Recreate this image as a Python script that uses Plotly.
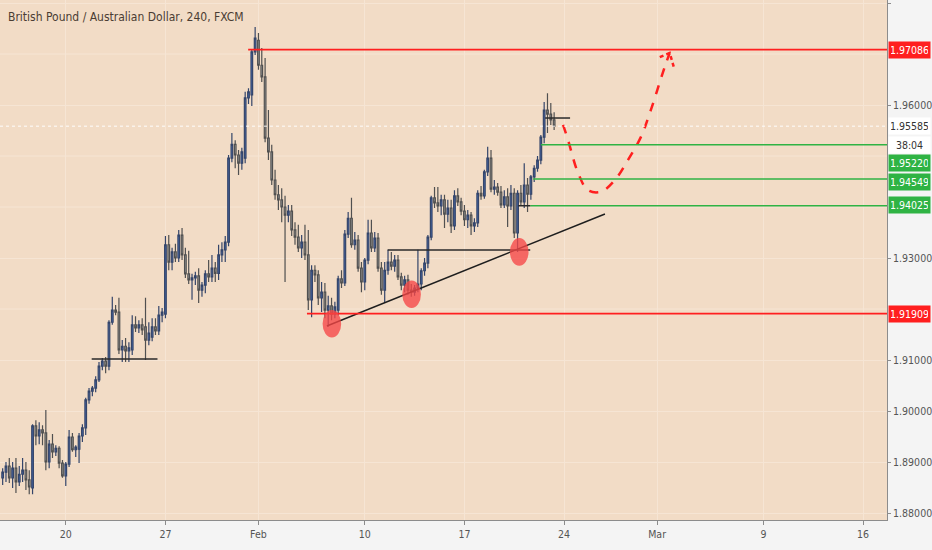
import plotly.graph_objects as go

# GBP/AUD 4h candles, bar 0 = Mon 20 Jan
bars = list(range(-19, 148))

opens = [1.8869, 1.8880, 1.8892, 1.8869, 1.8888, 1.8861, 1.8876, 1.8884, 1.8865, 1.8849,
         1.8971, 1.8951, 1.8963, 1.8957, 1.8900, 1.8935, 1.8920, 1.8927, 1.8898,
         1.8873, 1.8896, 1.8949, 1.8924, 1.8925, 1.8951, 1.8967, 1.9022, 1.9039, 1.9045,
         1.9061, 1.9088, 1.9098, 1.9088, 1.9174, 1.9198, 1.9194, 1.9120, 1.9127, 1.9118,
         1.9120, 1.9169, 1.9163, 1.9169, 1.9165, 1.9139, 1.9145, 1.9165, 1.9157, 1.9188,
         1.9190, 1.9326, 1.9292, 1.9312, 1.9300, 1.9345, 1.9306, 1.9269, 1.9257, 1.9261,
         1.9265, 1.9237, 1.9247, 1.9269, 1.9263, 1.9280, 1.9270, 1.9306, 1.9316, 1.9331,
         1.9496, 1.9523, 1.9502, 1.9486, 1.9496, 1.9614, 1.9620, 1.9704, 1.9727, 1.9678,
         1.9655, 1.9535, 1.9508, 1.9453, 1.9424, 1.9414, 1.9400, 1.9384, 1.9392, 1.9355,
         1.9341, 1.9320, 1.9331, 1.9306, 1.9218, 1.9276, 1.9267, 1.9222, 1.9233, 1.9198,
         1.9206, 1.9190, 1.9198, 1.9259, 1.9251, 1.9347, 1.9378, 1.9326, 1.9335, 1.9280,
         1.9253, 1.9296, 1.9349, 1.9320, 1.9339, 1.9280, 1.9237, 1.9276, 1.9292, 1.9284,
         1.9296, 1.9263, 1.9247, 1.9257, 1.9237, 1.9233, 1.9241, 1.9249, 1.9275, 1.9290,
         1.9341, 1.9418, 1.9408, 1.9402, 1.9414, 1.9386, 1.9398, 1.9363, 1.9422, 1.9410,
         1.9392, 1.9375, 1.9384, 1.9363, 1.9369, 1.9427, 1.9422, 1.9469, 1.9496, 1.9435,
         1.9439, 1.9429, 1.9404, 1.9420, 1.9402, 1.9427, 1.9349, 1.9427, 1.9410, 1.9443,
         1.9425, 1.9459, 1.9476, 1.9492, 1.9537, 1.9590, 1.9582, 1.9571]

highs = [1.8888, 1.8900, 1.8908, 1.8900, 1.8908, 1.8892, 1.8908, 1.8900, 1.8884, 1.8974,
         1.8982, 1.8978, 1.8972, 1.9002, 1.8943, 1.8955, 1.8933, 1.8931, 1.8904,
         1.8900, 1.8963, 1.8957, 1.8933, 1.8957, 1.8974, 1.9026, 1.9045, 1.9049, 1.9068,
         1.9096, 1.9104, 1.9106, 1.9178, 1.9224, 1.9208, 1.9222, 1.9139, 1.9143, 1.9135,
         1.9188, 1.9186, 1.9178, 1.9182, 1.9222, 1.9174, 1.9182, 1.9182, 1.9206, 1.9202,
         1.9343, 1.9345, 1.9320, 1.9328, 1.9355, 1.9359, 1.9320, 1.9314, 1.9269, 1.9273,
         1.9280, 1.9253, 1.9276, 1.9296, 1.9306, 1.9292, 1.9326, 1.9331, 1.9343, 1.9502,
         1.9545, 1.9531, 1.9512, 1.9516, 1.9626, 1.9633, 1.9708, 1.9753, 1.9741, 1.9712,
         1.9692, 1.9590, 1.9522, 1.9473, 1.9443, 1.9437, 1.9422, 1.9404, 1.9404, 1.9370,
         1.9365, 1.9345, 1.9365, 1.9355, 1.9286, 1.9286, 1.9276, 1.9253, 1.9251, 1.9226,
         1.9222, 1.9214, 1.9265, 1.9276, 1.9355, 1.9390, 1.9418, 1.9351, 1.9345, 1.9292,
         1.9300, 1.9375, 1.9375, 1.9351, 1.9349, 1.9292, 1.9292, 1.9316, 1.9312, 1.9306,
         1.9306, 1.9271, 1.9265, 1.9267, 1.9249, 1.9247, 1.9316, 1.9280, 1.9300, 1.9345,
         1.9422, 1.9439, 1.9439, 1.9424, 1.9424, 1.9414, 1.9414, 1.9433, 1.9437, 1.9418,
         1.9404, 1.9394, 1.9390, 1.9378, 1.9433, 1.9441, 1.9473, 1.9518, 1.9512, 1.9453,
         1.9447, 1.9441, 1.9433, 1.9437, 1.9443, 1.9437, 1.9433, 1.9443, 1.9486, 1.9457,
         1.9463, 1.9482, 1.9500, 1.9541, 1.9606, 1.9623, 1.9604, 1.9586]

lows = [1.8855, 1.8861, 1.8859, 1.8849, 1.8839, 1.8853, 1.8861, 1.8845, 1.8837, 1.8837,
        1.8933, 1.8935, 1.8933, 1.8884, 1.8888, 1.8908, 1.8912, 1.8888, 1.8869,
        1.8853, 1.8890, 1.8920, 1.8910, 1.8898, 1.8939, 1.8953, 1.9014, 1.9029, 1.9037,
        1.9057, 1.9080, 1.9074, 1.9080, 1.9169, 1.9188, 1.9112, 1.9096, 1.9096, 1.9096,
        1.9110, 1.9155, 1.9153, 1.9149, 1.9100, 1.9129, 1.9137, 1.9149, 1.9149, 1.9174,
        1.9182, 1.9276, 1.9276, 1.9292, 1.9292, 1.9296, 1.9261, 1.9249, 1.9218, 1.9247,
        1.9212, 1.9224, 1.9231, 1.9253, 1.9253, 1.9253, 1.9257, 1.9292, 1.9292, 1.9323,
        1.9488, 1.9476, 1.9463, 1.9473, 1.9486, 1.9602, 1.9598, 1.9698, 1.9669, 1.9645,
        1.9527, 1.9492, 1.9443, 1.9414, 1.9394, 1.9370, 1.9253, 1.9370, 1.9343, 1.9326,
        1.9312, 1.9300, 1.9296, 1.9198, 1.9184, 1.9253, 1.9208, 1.9194, 1.9182, 1.9165,
        1.9178, 1.9182, 1.9188, 1.9241, 1.9245, 1.9339, 1.9320, 1.9316, 1.9273, 1.9233,
        1.9237, 1.9288, 1.9312, 1.9312, 1.9273, 1.9228, 1.9212, 1.9267, 1.9276, 1.9273,
        1.9257, 1.9237, 1.9233, 1.9228, 1.9224, 1.9226, 1.9233, 1.9237, 1.9265, 1.9280,
        1.9335, 1.9398, 1.9390, 1.9384, 1.9359, 1.9370, 1.9349, 1.9355, 1.9402, 1.9384,
        1.9363, 1.9359, 1.9345, 1.9351, 1.9361, 1.9414, 1.9416, 1.9461, 1.9429, 1.9424,
        1.9422, 1.9398, 1.9398, 1.9361, 1.9394, 1.9339, 1.9312, 1.9402, 1.9398, 1.9390,
        1.9414, 1.9449, 1.9469, 1.9484, 1.9525, 1.9545, 1.9561, 1.9551]

closes = [1.8880, 1.8892, 1.8869, 1.8888, 1.8861, 1.8876, 1.8884, 1.8865, 1.8851, 1.8971,
          1.8951, 1.8963, 1.8957, 1.8900, 1.8935, 1.8920, 1.8927, 1.8898, 1.8873,
          1.8896, 1.8949, 1.8924, 1.8929, 1.8951, 1.8967, 1.9022, 1.9039, 1.9045, 1.9061,
          1.9088, 1.9098, 1.9088, 1.9174, 1.9198, 1.9194, 1.9120, 1.9127, 1.9118, 1.9124,
          1.9169, 1.9163, 1.9169, 1.9159, 1.9139, 1.9153, 1.9165, 1.9157, 1.9188, 1.9194,
          1.9326, 1.9292, 1.9312, 1.9300, 1.9345, 1.9306, 1.9269, 1.9257, 1.9261, 1.9265,
          1.9237, 1.9247, 1.9269, 1.9263, 1.9280, 1.9270, 1.9306, 1.9316, 1.9331, 1.9496,
          1.9523, 1.9502, 1.9486, 1.9508, 1.9614, 1.9626, 1.9704, 1.9731, 1.9678, 1.9655,
          1.9535, 1.9508, 1.9453, 1.9424, 1.9414, 1.9400, 1.9384, 1.9392, 1.9355, 1.9341,
          1.9320, 1.9331, 1.9306, 1.9218, 1.9276, 1.9267, 1.9222, 1.9233, 1.9198, 1.9206,
          1.9190, 1.9204, 1.9259, 1.9251, 1.9347, 1.9378, 1.9326, 1.9335, 1.9280, 1.9253,
          1.9296, 1.9349, 1.9320, 1.9339, 1.9280, 1.9237, 1.9276, 1.9292, 1.9284, 1.9296,
          1.9263, 1.9247, 1.9257, 1.9237, 1.9233, 1.9241, 1.9249, 1.9275, 1.9290, 1.9341,
          1.9418, 1.9408, 1.9402, 1.9414, 1.9386, 1.9398, 1.9363, 1.9422, 1.9410, 1.9392,
          1.9375, 1.9384, 1.9363, 1.9369, 1.9427, 1.9422, 1.9469, 1.9496, 1.9435, 1.9439,
          1.9429, 1.9404, 1.9420, 1.9402, 1.9427, 1.9349, 1.9427, 1.9410, 1.9443, 1.9425,
          1.9459, 1.9476, 1.9492, 1.9537, 1.9590, 1.9582, 1.9571, 1.95585]

tick_bars = [0, 30, 58, 90, 120, 150, 178, 210, 240]
tick_text = ["20", "27", "Feb", "10", "17", "24", "Mar", "9", "16"]

# price ticks that stay visible (the rest sit under the level tags)
price_ticks = [1.88, 1.89, 1.90, 1.91, 1.93, 1.96, 1.98]
hidden_grid = [1.92, 1.94, 1.95, 1.97]

last_price = 1.95585
countdown = "38:04"

# horizontal levels: (price, start bar)
red_levels = [(1.97086, 54.9), (1.91909, 72.6)]
green_levels = [(1.95220, 143.0, -18), (1.94549, 140.7, -3), (1.94025, 139.8, 1)]
black_segments = [(1.9102, 7.8, 27.6), (1.93157, 96.9, 139.8),
                  (1.95745, 144.3, 151.8), (1.94025, 136.2, 139.8)]
trend_bars = [78.6, 162.3]
trend_prices = [1.91667, 1.93863]
circle_bars = [80.1, 104.1, 136.5]
circle_prices = [1.9171, 1.9229, 1.9312]
path_bars = [149.7, 151.2, 154.2, 157.2, 161.1, 165.3, 169.2, 173.1, 176.1, 180.3, 181.8]
path_prices = [1.9561, 1.9531, 1.9467, 1.9433, 1.9430, 1.9453, 1.9492, 1.9537, 1.9590, 1.9675, 1.9702]
arrow_bars = [178.8, 181.8, 183.0]
arrow_prices = [1.9694, 1.9702, 1.9675]

x_range = [-19.8, 247.2]
y_range = [1.87863, 1.98059]

RED = "#ff1f1f"
GREEN = "#2fb344"
BG = "#f2dcc6"
GRID = "#f6e5d4"
FONT = "DejaVu Sans Condensed, Liberation Sans Narrow, Roboto, sans-serif"

fig = go.Figure()

fig.add_trace(go.Candlestick(
    x=bars, open=opens, high=highs, low=lows, close=closes,
    increasing=dict(line=dict(color="#34456a", width=1.2), fillcolor="#4a6cb0"),
    decreasing=dict(line=dict(color="#505050", width=1.2), fillcolor="#a8a8a8"),
    whiskerwidth=0, showlegend=False, hoverinfo="skip",
))

# trend line
fig.add_trace(go.Scatter(x=trend_bars, y=trend_prices, mode="lines",
                         line=dict(color="#1e1e1e", width=1.5), showlegend=False, hoverinfo="skip"))

# forecast path
fig.add_trace(go.Scatter(x=path_bars, y=path_prices, mode="lines",
                         line=dict(color=RED, width=2.5, dash="dash", shape="spline"),
                         showlegend=False, hoverinfo="skip"))
fig.add_trace(go.Scatter(x=arrow_bars, y=arrow_prices, mode="lines",
                         line=dict(color=RED, width=2.5, dash="4px,3px"),
                         showlegend=False, hoverinfo="skip"))

shapes = []
for g in hidden_grid:
    shapes.append(dict(type="line", xref="paper", yref="y", x0=0, x1=1, y0=g, y1=g,
                       line=dict(color=GRID, width=1), layer="below"))
for p, b0 in red_levels:
    shapes.append(dict(type="line", xref="x", yref="y", x0=b0, x1=x_range[1], y0=p, y1=p,
                       line=dict(color=RED, width=1.6)))
for p, b0, _ in green_levels:
    shapes.append(dict(type="line", xref="x", yref="y", x0=b0, x1=x_range[1], y0=p, y1=p,
                       line=dict(color=GREEN, width=1.5)))
for p, b0, b1 in black_segments:
    shapes.append(dict(type="line", xref="x", yref="y", x0=b0, x1=b1, y0=p, y1=p,
                       line=dict(color="#2a2a2a", width=1.5)))
# last price dotted line
shapes.append(dict(type="line", xref="paper", yref="y", x0=0, x1=1, y0=last_price, y1=last_price,
                   line=dict(color="rgba(255,255,255,0.95)", width=1, dash="dot")))
for cb, cp in zip(circle_bars, circle_prices):
    shapes.append(dict(type="circle", xref="x", yref="y", x0=cb - 2.8, x1=cb + 2.8,
                       y0=cp - 0.0027, y1=cp + 0.0027,
                       fillcolor="rgba(246,70,70,0.78)", line=dict(width=0), layer="above"))

annotations = [dict(text="British Pound / Australian Dollar, 240, FXCM", xref="paper", yref="paper",
                    x=0.007, y=0.985, xanchor="left", yanchor="top", showarrow=False,
                    font=dict(family=FONT, size=12, color="#4a3d33"))]


def price_tag(p, txt, bg, fg, yshift=0):
    return dict(text=txt, xref="paper", yref="y", x=1, y=p, xanchor="left", yanchor="middle",
                xshift=1, yshift=yshift, showarrow=False, bgcolor=bg, borderpad=2, width=37,
                align="center", font=dict(family=FONT, size=10.5, color=fg))


for p, _ in red_levels:
    annotations.append(price_tag(p, f"{p:.5f}", RED, "white"))
annotations.append(price_tag(last_price, f"{last_price:.5f}", "white", "#333333"))
annotations.append(price_tag(last_price, countdown, "white", "#333333", yshift=-19))
for p, _, sh in green_levels:
    annotations.append(price_tag(p, f"{p:.5f}", GREEN, "white", yshift=sh))

fig.update_layout(
    width=932, height=550,
    margin=dict(l=0, r=42, t=0, b=30),
    paper_bgcolor="#f4f4f4",
    plot_bgcolor=BG,
    shapes=shapes,
    annotations=annotations,
    font=dict(family=FONT, size=10.5, color="#555555"),
    xaxis=dict(range=x_range, tickvals=tick_bars, ticktext=tick_text, rangeslider=dict(visible=False),
               showgrid=True, gridcolor=GRID, gridwidth=1, zeroline=False,
               showline=True, linecolor="#8c8c8c", linewidth=1,
               ticks="outside", ticklen=4, tickcolor="#8c8c8c"),
    yaxis=dict(range=y_range, side="right", tickvals=price_ticks, tickformat=".5f",
               showgrid=True, gridcolor=GRID, gridwidth=1, zeroline=False,
               showline=True, linecolor="#8c8c8c", linewidth=1,
               ticks="outside", ticklen=3, tickcolor="#8c8c8c"),
)

fig.write_html("out.html", config={"displayModeBar": False},
               post_script="document.body.style.margin='0';")
